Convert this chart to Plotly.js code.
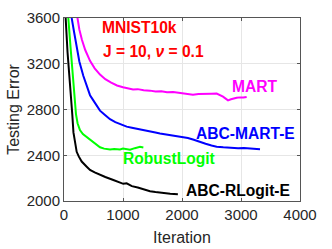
<!DOCTYPE html>
<html>
<head>
<meta charset="utf-8">
<script src="https://cdn.plot.ly/plotly-3.0.1.min.js"></script>
<style>html,body{margin:0;padding:0;background:#fff;}#chart{width:332px;height:249px;}</style>
</head>
<body>
<div id="chart"></div>
<script>
const xTicks = [0, 1000, 2000, 3000, 4000];
const yTicks = [2000, 2400, 2800, 3200, 3600];

const martX = [150, 220, 260, 305, 360, 441, 520, 610, 700, 800, 898, 1000, 1100, 1170, 1250, 1350, 1458, 1550, 1650, 1746, 1850, 1950, 2017, 2100, 2186, 2280, 2400, 2500, 2588, 2650, 2695, 2740, 2780, 2830, 2880, 2927, 2980, 3040, 3096];
const martY = [3850, 3600, 3500, 3408, 3320, 3225, 3160, 3105, 3065, 3035, 3010, 2995, 2985, 2975, 2978, 2968, 2965, 2958, 2960, 2950, 2953, 2944, 2942, 2935, 2928, 2935, 2940, 2938, 2940, 2925, 2912, 2895, 2880, 2890, 2900, 2903, 2906, 2904, 2910];

const abcMartX = [100, 130, 170, 215, 260, 327, 400, 441, 497, 560, 610, 700, 780, 870, 949, 1062, 1150, 1250, 1345, 1458, 1550, 1627, 1740, 1850, 1950, 2017, 2100, 2200, 2305, 2400, 2500, 2588, 2700, 2800, 2864, 2950, 3050, 3153, 3250, 3322];
const abcMartY = [3900, 3600, 3480, 3330, 3220, 3095, 2990, 2925, 2880, 2830, 2790, 2750, 2715, 2690, 2672, 2650, 2640, 2628, 2620, 2606, 2598, 2590, 2580, 2572, 2565, 2562, 2550, 2535, 2520, 2500, 2485, 2475, 2470, 2466, 2466, 2462, 2464, 2461, 2456, 2452];

const robustX = [40, 73, 110, 158, 186, 203, 230, 270, 320, 385, 450, 497, 560, 610, 680, 780, 850, 949, 1000, 1062, 1119, 1200, 1250, 1288, 1345];
const robustY = [4000, 3600, 3350, 3043, 2890, 2760, 2680, 2620, 2585, 2560, 2535, 2518, 2492, 2470, 2458, 2450, 2455, 2450, 2458, 2452, 2448, 2462, 2470, 2474, 2468];

const abcRLogitX = [10, 28, 60, 102, 141, 160, 190, 215, 250, 300, 385, 441, 520, 610, 700, 836, 920, 1005, 1062, 1150, 1250, 1345, 1458, 1550, 1683, 1800, 1930];
const abcRLogitY = [3900, 3600, 3300, 3043, 2752, 2600, 2500, 2430, 2390, 2345, 2300, 2271, 2250, 2228, 2210, 2184, 2165, 2150, 2155, 2130, 2118, 2100, 2085, 2078, 2068, 2064, 2060];

const FONT = 'Liberation Sans, Arial, Helvetica, sans-serif';

const traces = [
  {x: martX, y: martY, mode: 'lines', line: {color: '#ff00ff', width: 2}},
  {x: abcMartX, y: abcMartY, mode: 'lines', line: {color: '#0000ff', width: 2}},
  {x: robustX, y: robustY, mode: 'lines', line: {color: '#00ff00', width: 2}},
  {x: abcRLogitX, y: abcRLogitY, mode: 'lines', line: {color: '#000000', width: 2}}
];

function ann(text, x, y, color) {
  return {text: text, x: x, y: y, xref: 'x', yref: 'y', showarrow: false,
    xanchor: 'center', yanchor: 'middle',
    font: {family: FONT, size: 15.6, color: color, weight: 'bold'}};
}

const layout = {
  width: 332, height: 249,
  margin: {l: 64, r: 32, t: 18, b: 48},
  paper_bgcolor: '#ffffff', plot_bgcolor: '#ffffff',
  showlegend: false,
  font: {family: FONT, size: 15, color: '#262626'},
  xaxis: {
    range: [0, 4000], tickvals: xTicks, ticktext: xTicks.map(String),
    showgrid: true, gridcolor: '#e6e6e6', gridwidth: 1, zeroline: false,
    showline: true, linecolor: '#555555', linewidth: 1, mirror: 'ticks',
    ticks: 'inside', ticklen: 3, tickcolor: '#555555',
    tickfont: {family: FONT, size: 15, color: '#262626'},
    title: {text: 'Iteration', font: {family: FONT, size: 16, color: '#262626'}, standoff: 9}
  },
  yaxis: {
    range: [2000, 3600], tickvals: yTicks, ticktext: yTicks.map(String),
    showgrid: true, gridcolor: '#e6e6e6', gridwidth: 1, zeroline: false,
    showline: true, linecolor: '#555555', linewidth: 1, mirror: 'ticks',
    ticks: 'inside', ticklen: 3, tickcolor: '#555555',
    tickfont: {family: FONT, size: 15, color: '#262626'},
    title: {text: 'Testing Error', font: {family: FONT, size: 16, color: '#262626'}, standoff: 3}
  },
  annotations: [
    ann('MNIST10k', 1280, 3513, '#ff0000'),
    ann('J = 10, <i>ν</i> = 0.1', 1520, 3305, '#ff0000'),
    ann('MART', 3237, 2997, '#ff00ff'),
    ann('ABC-MART-E', 3068, 2590, '#0000ff'),
    ann('RobustLogit', 1780, 2376, '#00ff00'),
    ann('ABC-RLogit-E', 2955, 2096, '#000000')
  ]
};

Plotly.newPlot('chart', traces, layout, {staticPlot: true, displayModeBar: false});
</script>
</body>
</html>
